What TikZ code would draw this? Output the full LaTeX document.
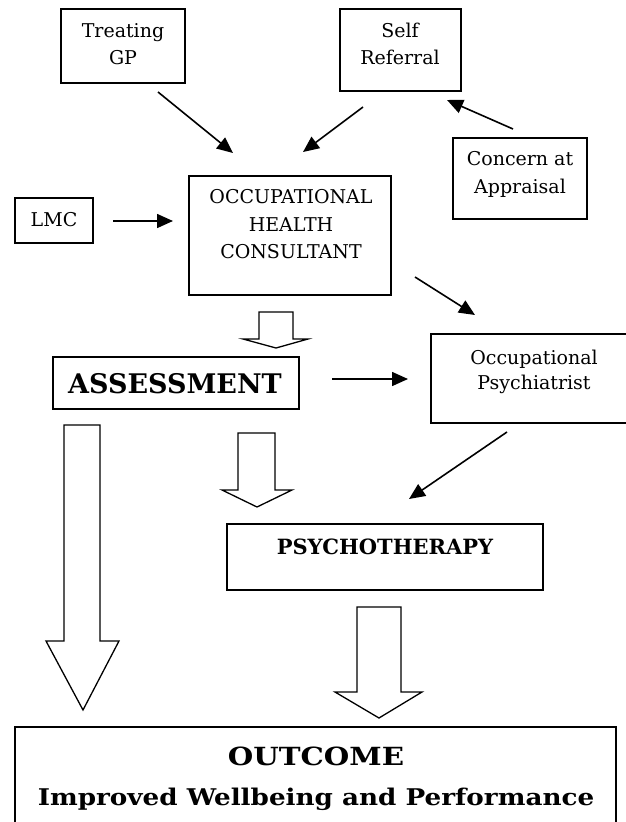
\documentclass[tikz,border=0pt]{standalone}
\usepackage{fontspec}
\usepackage{graphicx}
\setmainfont{DejaVu Serif}
\usetikzlibrary{arrows.meta}
\begin{document}
\begin{tikzpicture}[x=1pt,y=-1pt,
  box/.style={draw, line width=1.6pt, inner sep=0pt, outer sep=0pt},
  line/.style={inner sep=0pt, text height=13.85pt, text depth=0pt,
    font=\fontsize{19}{19}\selectfont},
  arr/.style={line width=1.6pt, -{Triangle[length=16pt,width=14pt]}},
  blk/.style={draw, line width=1.3pt, fill=white, line join=miter}]
\useasboundingbox (0,0) rectangle (625,822);
% boxes
\node[box, minimum width=124pt, minimum height=74pt] (tgp) at (123,46) {};
\node[box, minimum width=121pt, minimum height=82pt] (self) at (400.5,50) {};
\node[box, minimum width=134pt, minimum height=81pt] (conc) at (520,178.5) {};
\node[box, minimum width=78pt, minimum height=45pt] (lmc) at (54,220.5) {};
\node[box, minimum width=202pt, minimum height=119pt] (ohc) at (290,235.5) {};
\node[box, minimum width=246pt, minimum height=52pt] (assess) at (176,383) {};
\node[box, minimum width=209pt, minimum height=89pt] (psych) at (535.5,378.5) {};
\node[box, minimum width=316pt, minimum height=66pt] (psyth) at (385,557) {};
\node[box, minimum width=601pt, minimum height=103pt] (outc) at (315.5,778.5) {};
% texts
\node[line] (tgp1) at (123,31) {Treating};
\node[line] (tgp2) at (123,58) {GP};
\node[line] (self1) at (400,31) {Self};
\node[line] (self2) at (400,58) {Referral};
\node[line] (conc1) at (520,159) {Concern at};
\node[line] (conc2) at (520,187) {Appraisal};
\node[line] (lmc1) at (54,220) {LMC};
\node[line] (ohc1) at (291,197) {OCCUPATIONAL};
\node[line] (ohc2) at (291,225) {HEALTH};
\node[line] (ohc3) at (291,252) {CONSULTANT};
\node[line, text height=19.7pt, font=\bfseries\fontsize{27}{27}\selectfont] (assess1) at (175,384) {ASSESSMENT};
\node[line] (psych1) at (534,358) {Occupational};
\node[line] (psych2) at (534,383) {Psychiatrist};
\node[line, text height=15.3pt, font=\bfseries\fontsize{21}{21}\selectfont] (psyth1) at (385,547) {PSYCHOTHERAPY};
\node[line, text height=18.2pt, font=\bfseries\fontsize{25}{25}\selectfont] (outc1) at (316,756) {\scalebox{1.17}[1]{OUTCOME}};
\node[line, text height=16.8pt, font=\bfseries\fontsize{23}{23}\selectfont] (outc2) at (316,797) {\scalebox{1.14}[1]{Improved Wellbeing and Performance}};
% connector end points
\coordinate (a1s) at (158,92);  \coordinate (a1e) at (233,153);
\coordinate (a2s) at (363,107); \coordinate (a2e) at (303,152);
\coordinate (a3s) at (513,129); \coordinate (a3e) at (447,100);
\coordinate (a4s) at (113,221); \coordinate (a4e) at (173,221);
\coordinate (a5s) at (415,277); \coordinate (a5e) at (475,315);
\coordinate (a6s) at (332,379); \coordinate (a6e) at (408,379);
\coordinate (a7s) at (507,432); \coordinate (a7e) at (409,499);
\draw[arr] (a1s) -- (a1e);
\draw[arr] (a2s) -- (a2e);
\draw[arr] (a3s) -- (a3e);
\draw[arr] (a4s) -- (a4e);
\draw[arr] (a5s) -- (a5e);
\draw[arr] (a6s) -- (a6e);
\draw[arr] (a7s) -- (a7e);
% block arrows
\draw[blk] (259,312)--(293,312)--(293,339)--(308,339)--(276,348)--(243,339)--(259,339)--cycle;
\draw[blk] (238,433)--(275,433)--(275,490)--(292,490)--(257,507)--(222,490)--(238,490)--cycle;
\draw[blk] (64,425)--(100,425)--(100,641)--(119,641)--(83,710)--(46,641)--(64,641)--cycle;
\draw[blk] (357,607)--(401,607)--(401,692)--(422,692)--(379,718)--(335,692)--(357,692)--cycle;
\end{tikzpicture}
\end{document}
